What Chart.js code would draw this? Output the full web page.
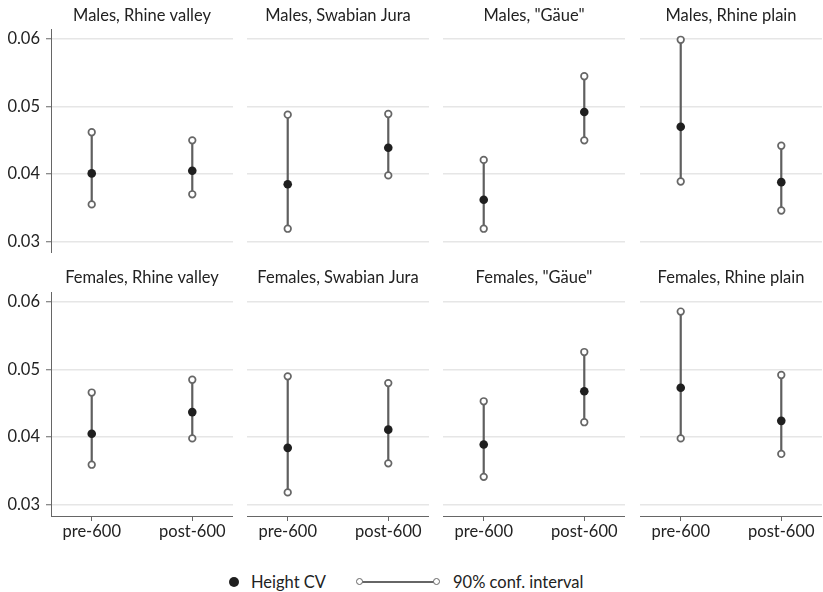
<!DOCTYPE html>
<html>
<head>
<meta charset="utf-8">
<script src="https://cdn.jsdelivr.net/npm/chart.js@4"></script>
<style>
  html,body{margin:0;padding:0;background:#fff;}
  #wrap{position:relative;width:823px;height:592px;overflow:hidden;font-family:Lato,"Open Sans",sans-serif;}
  canvas{position:absolute;}
  #legend{position:absolute;top:572px;left:0;width:823px;height:20px;font-family:Lato,sans-serif;font-size:16.5px;color:#222;}
  .dot{position:absolute;top:5px;left:229px;width:10px;height:10px;border-radius:50%;background:#1f1f1f;}
  .ltxt{position:absolute;top:0;line-height:20px;white-space:nowrap;}
  .cline{position:absolute;top:9px;left:362px;width:74px;height:2px;background:#666;}
  .ring{position:absolute;top:6px;width:5px;height:5px;border:1.6px solid #666;border-radius:50%;background:#fff;}
</style>
</head>
<body>
<div id="wrap">
  <div id="legend">
    <div class="dot"></div>
    <div class="ltxt" style="left:251px">Height CV</div>
    <div class="cline"></div>
    <div class="ring" style="left:356px"></div>
    <div class="ring" style="left:433px"></div>
    <div class="ltxt" style="left:453px">90% conf. interval</div>
  </div>
</div>
<script>
const categories = ['pre-600', 'post-600'];
const panelTitles = [
  'Males, Rhine valley', 'Males, Swabian Jura', 'Males, "Gäue"', 'Males, Rhine plain',
  'Females, Rhine valley', 'Females, Swabian Jura', 'Females, "Gäue"', 'Females, Rhine plain'
];
const meanValues = [
  [0.0401, 0.0405], [0.0385, 0.0439], [0.0362, 0.0492], [0.0470, 0.0388],
  [0.0405, 0.0437], [0.0384, 0.0411], [0.0389, 0.0468], [0.0473, 0.0424]
];
const lowerValues = [
  [0.0355, 0.0370], [0.0319, 0.0398], [0.0319, 0.0450], [0.0389, 0.0346],
  [0.0359, 0.0398], [0.0318, 0.0361], [0.0341, 0.0422], [0.0398, 0.0375]
];
const upperValues = [
  [0.0462, 0.0450], [0.0488, 0.0489], [0.0421, 0.0545], [0.0599, 0.0442],
  [0.0466, 0.0485], [0.0490, 0.0480], [0.0453, 0.0526], [0.0586, 0.0492]
];
const yTicks = [0.03, 0.04, 0.05, 0.06];
const legendLabels = ['Height CV', '90% conf. interval'];

const FONT = 'Lato, "Open Sans", sans-serif';
const plotLefts = [51, 247.3, 443.3, 640];
const plotWidth = 181.5;
const wrap = document.getElementById('wrap');

const titlePlugin = {
  id: 'panelTitle',
  afterDraw(chart, args, opts) {
    const ctx = chart.ctx, a = chart.chartArea;
    ctx.save();
    ctx.font = '16.5px ' + FONT;
    ctx.fillStyle = '#222';
    ctx.textAlign = 'center';
    ctx.textBaseline = 'middle';
    ctx.fillText(opts.text, (a.left + a.right) / 2, opts.y);
    ctx.restore();
  }
};

for (let i = 0; i < 8; i++) {
  const row = Math.floor(i / 4), col = i % 4;
  const L = plotLefts[col];
  const canvasLeft = col === 0 ? 0 : L;
  const yAxisW = col === 0 ? L : 0;
  const w = Math.round(yAxisW + plotWidth);
  const top = row === 0 ? 0 : 262;
  const padTop = row === 0 ? 29 : 30;
  const xAxisH = row === 0 ? 0 : 28;
  const h = padTop + 224 + xAxisH;

  const cv = document.createElement('canvas');
  cv.width = w; cv.height = h;
  cv.style.left = canvasLeft + 'px';
  cv.style.top = top + 'px';
  cv.style.width = w + 'px'; cv.style.height = h + 'px';
  wrap.appendChild(cv);

  const datasets = [];
  categories.forEach((c, k) => {
    datasets.push({
      label: legendLabels[1],
      data: [{x: k, y: lowerValues[i][k]}, {x: k, y: upperValues[i][k]}],
      showLine: true,
      borderColor: '#5f5f5f',
      borderWidth: 2.2,
      pointRadius: 3.3,
      pointBorderWidth: 1.7,
      pointBackgroundColor: '#ffffff',
      pointBorderColor: '#666666',
      order: 2
    });
  });
  datasets.push({
    label: legendLabels[0],
    data: categories.map((c, k) => ({x: k, y: meanValues[i][k]})),
    showLine: false,
    pointRadius: 4.3,
    pointBackgroundColor: '#1f1f1f',
    pointBorderColor: '#1f1f1f',
    pointBorderWidth: 0,
    order: 1
  });

  new Chart(cv, {
    type: 'scatter',
    data: {datasets},
    options: {
      responsive: false,
      animation: false,
      devicePixelRatio: 1,
      layout: {autoPadding: false, padding: {top: padTop, left: 0, right: 0, bottom: 0}},
      plugins: {
        legend: {display: false},
        tooltip: {enabled: false},
        panelTitle: {text: panelTitles[i], y: 16}
      },
      scales: {
        x: {
          type: 'linear',
          display: row === 1,
          min: -0.405, max: 1.405,
          afterBuildTicks: s => { s.ticks = categories.map((c, k) => ({value: k})); },
          afterFit: s => { s.height = xAxisH; s.paddingLeft = 0; s.paddingRight = 0; },
          ticks: {
            callback: v => categories[v],
            font: {family: FONT, size: 16.5},
            color: '#222',
            padding: 1,
            maxRotation: 0,
            autoSkip: false
          },
          grid: {drawOnChartArea: false, drawTicks: true, tickLength: 5, tickColor: '#666', tickWidth: 1},
          border: {display: true, color: '#666', width: 1}
        },
        y: {
          type: 'linear',
          min: 0.0283, max: 0.0615,
          afterBuildTicks: s => { s.ticks = yTicks.map(v => ({value: v})); },
          afterFit: s => { s.width = yAxisW; s.paddingTop = 0; s.paddingBottom = 0; },
          ticks: {
            display: col === 0,
            callback: v => v.toFixed(2),
            font: {family: FONT, size: 16.5},
            color: '#222',
            padding: 6
          },
          grid: {
            color: '#e6e6e6', lineWidth: 1.5,
            drawTicks: col === 0, tickLength: 5, tickColor: '#666', tickWidth: 1
          },
          border: {display: col === 0, color: '#666', width: 1}
        }
      }
    },
    plugins: [titlePlugin]
  });
}
</script>
</body>
</html>
